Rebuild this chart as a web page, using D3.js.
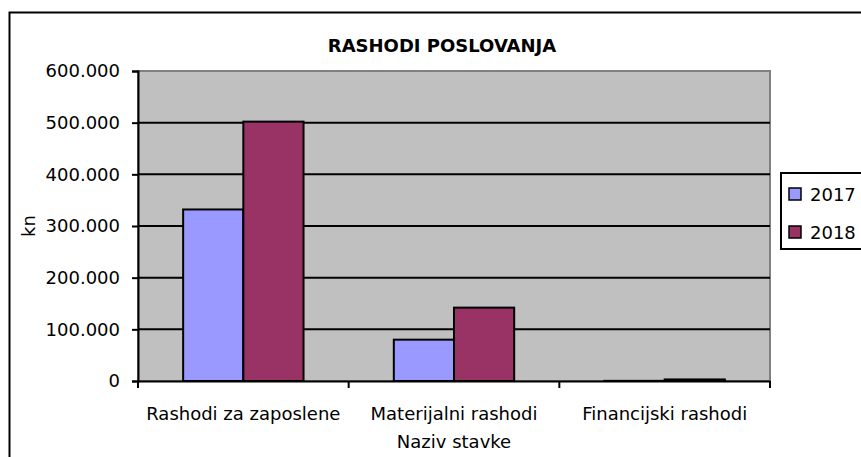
<!DOCTYPE html>
<html>
<head>
<meta charset="utf-8">
<script src="https://cdn.jsdelivr.net/npm/d3@7"></script>
<style>
	body { margin: 0; background: #fff; }
	text { font-family: "DejaVu Sans", sans-serif; fill: #000; }
</style>
</head>
<body>
<div id="chart"></div>
<script>
const categories = ["Rashodi za zaposlene", "Materijalni rashodi", "Financijski rashodi"];
const seriesNames = ["2017", "2018"];
const values2017 = [332000, 80000, 300];
const values2018 = [502000, 142000, 3000];
const yTicks = [0, 100000, 200000, 300000, 400000, 500000, 600000];
const colors = ["#9999ff", "#993366"];

const W = 861, H = 457;
const plot = {left: 138, right: 770, top: 71, bottom: 381};

const svg = d3.select("#chart")
	.append("svg")
	.attr("width", W)
	.attr("height", H);

// outer chart border (runs off the picture right and bottom)
svg.append("rect")
	.attr("x", 9.5).attr("y", 12.5)
	.attr("width", 900).attr("height", 500)
	.attr("fill", "#fff")
	.attr("stroke", "#000")
	.attr("stroke-width", 2);

// scales
const x0 = d3.scaleBand()
	.domain(categories)
	.range([plot.left, plot.right]);
const barW = x0.bandwidth() / 3.5;
const x1 = d3.scaleBand()
	.domain(seriesNames)
	.range([0, barW * 2]);
const y = d3.scaleLinear()
	.domain([0, 600000])
	.range([plot.bottom, plot.top]);

// plot area
svg.append("rect")
	.attr("x", plot.left).attr("y", plot.top)
	.attr("width", plot.right - plot.left)
	.attr("height", plot.bottom - plot.top)
	.attr("fill", "#c0c0c0")
	.attr("stroke", "#808080")
	.attr("stroke-width", 2);

// gridlines
svg.append("g")
	.selectAll("line")
	.data(yTicks.slice(1, -1))
	.enter().append("line")
	.attr("x1", plot.left).attr("x2", plot.right)
	.attr("y1", d => y(d)).attr("y2", d => y(d))
	.attr("stroke", "#000")
	.attr("stroke-width", 2);

// bars
const table = categories.map((c, i) => ({cat: c, vals: [values2017[i], values2018[i]]}));
const groups = svg.append("g")
	.selectAll("g")
	.data(table)
	.enter().append("g")
	.attr("transform", d => "translate(" + (x0(d.cat) + (x0.bandwidth() - barW * 2) / 2) + ",0)");
groups.selectAll("rect")
	.data(d => d.vals.map((v, j) => ({name: seriesNames[j], v: v, j: j})))
	.enter().append("rect")
	.attr("x", d => x1(d.name))
	.attr("y", d => y(d.v))
	.attr("width", x1.bandwidth())
	.attr("height", d => y(0) - y(d.v))
	.attr("fill", d => colors[d.j])
	.attr("stroke", "#000")
	.attr("stroke-width", 2);

// y axis
const yAxis = svg.append("g")
	.attr("transform", "translate(" + plot.left + ",0)")
	.call(d3.axisLeft(y)
		.tickValues(yTicks)
		.tickSize(6)
		.tickPadding(12)
		.tickFormat(d => d3.format(",")(d).replace(/,/g, ".")));
yAxis.select(".domain").attr("stroke", "#000").attr("stroke-width", 2);
yAxis.selectAll(".tick line").attr("stroke", "#000").attr("stroke-width", 2);
yAxis.selectAll("text").style("font-size", "18px").style("font-family", "DejaVu Sans");

// x axis
const xAxis = svg.append("g")
	.attr("transform", "translate(0," + plot.bottom + ")")
	.call(d3.axisBottom(x0).tickSize(0).tickPadding(26));
xAxis.select(".domain").attr("stroke", "#000").attr("stroke-width", 2);
xAxis.selectAll("text").style("font-size", "18px").style("font-family", "DejaVu Sans");
xAxis.append("g")
	.selectAll("line")
	.data([plot.left, x0(categories[1]), x0(categories[2]), plot.right])
	.enter().append("line")
	.attr("x1", d => d).attr("x2", d => d)
	.attr("y1", 0).attr("y2", 7)
	.attr("stroke", "#000")
	.attr("stroke-width", 2);

// title and axis titles
svg.append("text")
	.attr("x", (plot.left + plot.right) / 2 - 12)
	.attr("y", 52)
	.attr("text-anchor", "middle")
	.style("font-size", "18px")
	.style("font-weight", "bold")
	.text("RASHODI POSLOVANJA");

svg.append("text")
	.attr("x", (plot.left + plot.right) / 2)
	.attr("y", 448)
	.attr("text-anchor", "middle")
	.style("font-size", "18px")
	.text("Naziv stavke");

svg.append("text")
	.attr("transform", "translate(35,226) rotate(-90)")
	.attr("text-anchor", "middle")
	.style("font-size", "18px")
	.text("kn");

// legend
const legend = svg.append("g");
legend.append("rect")
	.attr("x", 781).attr("y", 173)
	.attr("width", 100).attr("height", 76)
	.attr("fill", "#fff")
	.attr("stroke", "#000")
	.attr("stroke-width", 2);
const items = legend.selectAll(".item")
	.data(seriesNames)
	.enter().append("g")
	.attr("class", "item")
	.attr("transform", (d, i) => "translate(789," + (188 + i * 38) + ")");
items.append("rect")
	.attr("width", 12).attr("height", 12)
	.attr("fill", (d, i) => colors[i])
	.attr("stroke", "#000")
	.attr("stroke-width", 1.5);
items.append("text")
	.attr("x", 21).attr("y", 13)
	.style("font-size", "18px")
	.text(d => d);
</script>
</body>
</html>
